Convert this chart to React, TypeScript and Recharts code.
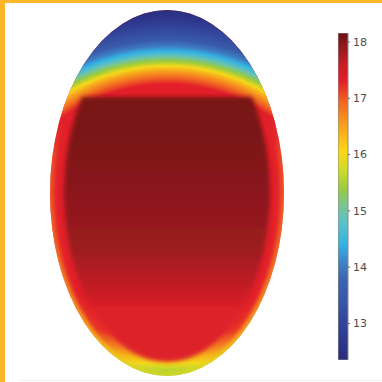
import React from "react";
import { ScatterChart, XAxis, YAxis, ReferenceArea, BarChart, Bar } from "recharts";

// colour scale
const cmapValues = [12.35, 12.8, 13.3, 13.8, 14.1, 14.4, 14.8, 15.1, 15.4, 15.7, 16.05, 16.5, 16.9, 17.3, 17.6, 17.9, 18.16];
const cmapColors = [
  "#2a2c7b", "#2f3c92", "#3752a3", "#3c66b1", "#3d85c6", "#35b2e4", "#5dc1c6", "#7bc58e", "#9acb3f",
  "#cadb2b", "#fbd816", "#f7a21c", "#f26b22", "#e3202a", "#c61e24", "#951a1e", "#6e1013",
];
const cbarTicks = [13, 14, 15, 16, 17, 18];
const cbarRange: [number, number] = [12.35, 18.16];

// body outline (semi-axes)
const bodyRx = 117;
const bodyRy = 183;

// centre line through the cold top cap (height -> value)
const capY = [183, 173, 163, 153, 147, 142, 137, 132, 127, 122, 116, 109];
const capT = [12.4, 12.7, 13.1, 13.5, 14.0, 14.4, 14.9, 15.4, 16.0, 16.5, 16.9, 17.3];
const capCentreY = -70;

// centre line through the lower body
const bodyY = [183, -107, -137, -152, -162, -170, -177, -183];
const bodyT = [17.3, 17.3, 17.2, 16.8, 16.4, 16.0, 15.6, 15.4];

// hot core
const coreInset = 14;
const coreTop = 96;
const coreY = [96, 43, -7, -57, -97, -117];
const coreT = [18.1, 18.05, 17.95, 17.85, 17.6, 17.35];

// thin cooler layer along the wall
const rimY = [80, 40, -60, -140, -183];
const rimT = [17.3, 16.9, 16.7, 16.3, 15.8];
const rimAlpha = [0, 0.6, 0.8, 0.9, 0.9];

function rgb(h: string) {
  return [1, 3, 5].map((i) => parseInt(h.slice(i, i + 2), 16));
}

function colourOf(t: number) {
  const v = Math.min(Math.max(t, cmapValues[0]), cmapValues[cmapValues.length - 1]);
  let i = 0;
  while (i < cmapValues.length - 2 && v > cmapValues[i + 1]) i++;
  const f = (v - cmapValues[i]) / (cmapValues[i + 1] - cmapValues[i]);
  const a = rgb(cmapColors[i]);
  const b = rgb(cmapColors[i + 1]);
  const c = a.map((x, k) => Math.round(x + (b[k] - x) * f));
  return `rgb(${c[0]},${c[1]},${c[2]})`;
}

function Body(props: any) {
  const { x, y, width, height } = props;
  const sx = width / (2 * bodyRx);
  const sy = height / (2 * bodyRy);
  const px = (v: number) => x + (v + bodyRx) * sx;
  const py = (v: number) => y + (bodyRy - v) * sy;
  const cx = px(0);
  const cy = py(0);
  const capR = py(capCentreY) - py(bodyRy);
  const capStops = capY
    .map((v, i) => ({ off: (v - capCentreY) / (bodyRy - capCentreY), t: capT[i] }))
    .reverse();

  return (
    <g>
      <defs>
        <clipPath id="bodyClip">
          <ellipse cx={cx} cy={cy} rx={width / 2} ry={height / 2} />
        </clipPath>
        <clipPath id="coreClip">
          <rect x={x} y={py(coreTop)} width={width} height={height} />
        </clipPath>
        <filter id="soft" x="-20%" y="-20%" width="140%" height="140%">
          <feGaussianBlur stdDeviation={2} />
        </filter>
        <linearGradient id="bodyGrad" gradientUnits="userSpaceOnUse" x1={0} x2={0} y1={py(bodyRy)} y2={py(-bodyRy)}>
          {bodyY.map((v, i) => (
            <stop key={i} offset={(bodyRy - v) / (2 * bodyRy)} stopColor={colourOf(bodyT[i])} />
          ))}
        </linearGradient>
        <radialGradient id="capGrad" gradientUnits="userSpaceOnUse" cx={cx} cy={py(capCentreY)} r={capR}>
          <stop offset={capStops[0].off - 0.03} stopColor={colourOf(capStops[0].t)} stopOpacity={0} />
          {capStops.map((s, i) => (
            <stop key={i} offset={s.off} stopColor={colourOf(s.t)} />
          ))}
        </radialGradient>
        <linearGradient id="coreGrad" gradientUnits="userSpaceOnUse" x1={0} x2={0} y1={py(coreY[0])} y2={py(coreY[coreY.length - 1])}>
          {coreY.map((v, i) => (
            <stop key={i} offset={(coreY[0] - v) / (coreY[0] - coreY[coreY.length - 1])} stopColor={colourOf(coreT[i])} />
          ))}
        </linearGradient>
        <linearGradient id="rimGrad" gradientUnits="userSpaceOnUse" x1={0} x2={0} y1={py(rimY[0])} y2={py(rimY[rimY.length - 1])}>
          {rimY.map((v, i) => (
            <stop key={i} offset={(rimY[0] - v) / (rimY[0] - rimY[rimY.length - 1])} stopColor={colourOf(rimT[i])} stopOpacity={rimAlpha[i]} />
          ))}
        </linearGradient>
      </defs>
      <g clipPath="url(#bodyClip)">
        <rect x={x} y={y} width={width} height={height} fill="url(#bodyGrad)" />
        <rect x={x} y={y} width={width} height={height} fill="url(#capGrad)" />
        <g filter="url(#soft)">
          <ellipse cx={cx} cy={cy} rx={width / 2} ry={height / 2} fill="none" stroke="url(#rimGrad)" strokeWidth={7} />
        </g>
        <g filter="url(#soft)">
          <ellipse
            cx={cx}
            cy={cy}
            rx={width / 2 - coreInset * sx}
            ry={height / 2 - coreInset * sy}
            fill="url(#coreGrad)"
            clipPath="url(#coreClip)"
          />
        </g>
      </g>
    </g>
  );
}

const cbarData = [{ name: "T", span: cbarRange }];

export default function App() {
  // colour bar stops, top (hot) to bottom (cold)
  const cbarStops = cmapValues
    .map((v, i) => ({ off: (cbarRange[1] - v) / (cbarRange[1] - cbarRange[0]), c: cmapColors[i] }))
    .reverse();

  return (
    <div style={{ position: "absolute", left: 0, top: 0, width: 382, height: 382, background: "#fff", overflow: "hidden" }}>
      <div style={{ position: "absolute", left: 0, top: 0, width: 5, height: 382, background: "#fdb52a" }} />
      <div style={{ position: "absolute", left: 0, top: 0, width: 382, height: 3, background: "#fdb52a" }} />
      <div style={{ position: "absolute", left: 20, top: 380, width: 362, height: 1, background: "#f3efe4" }} />

      <div style={{ position: "absolute", left: 0, top: 0 }}>
        <ScatterChart width={382} height={382} margin={{ top: 10, left: 50, right: 98, bottom: 6 }}>
          <XAxis type="number" dataKey="x" domain={[-bodyRx, bodyRx]} hide allowDataOverflow />
          <YAxis type="number" dataKey="y" domain={[-bodyRy, bodyRy]} hide allowDataOverflow />
          <ReferenceArea x1={-bodyRx} x2={bodyRx} y1={-bodyRy} y2={bodyRy} shape={<Body />} ifOverflow="visible" />
        </ScatterChart>
      </div>

      <div style={{ position: "absolute", left: 338, top: 33 }}>
        <BarChart width={40} height={327} data={cbarData} margin={{ top: 0, right: 0, bottom: 0, left: 0 }} barCategoryGap={0}>
          <defs>
            <linearGradient id="cbarGrad" x1={0} x2={0} y1={0} y2={1}>
              {cbarStops.map((s, i) => (
                <stop key={i} offset={s.off} stopColor={s.c} />
              ))}
            </linearGradient>
          </defs>
          <XAxis dataKey="name" hide />
          <YAxis
            orientation="right"
            width={30}
            type="number"
            domain={cbarRange}
            ticks={cbarTicks}
            axisLine={false}
            tickSize={2}
            tickMargin={3}
            tickLine={{ stroke: "#666" }}
            tick={{ fill: "#4d4d4d", fontSize: 11, fontFamily: "DejaVu Sans" }}
          />
          <Bar dataKey="span" fill="url(#cbarGrad)" stroke="#8a8a8a" strokeWidth={1} isAnimationActive={false} />
        </BarChart>
      </div>
    </div>
  );
}
